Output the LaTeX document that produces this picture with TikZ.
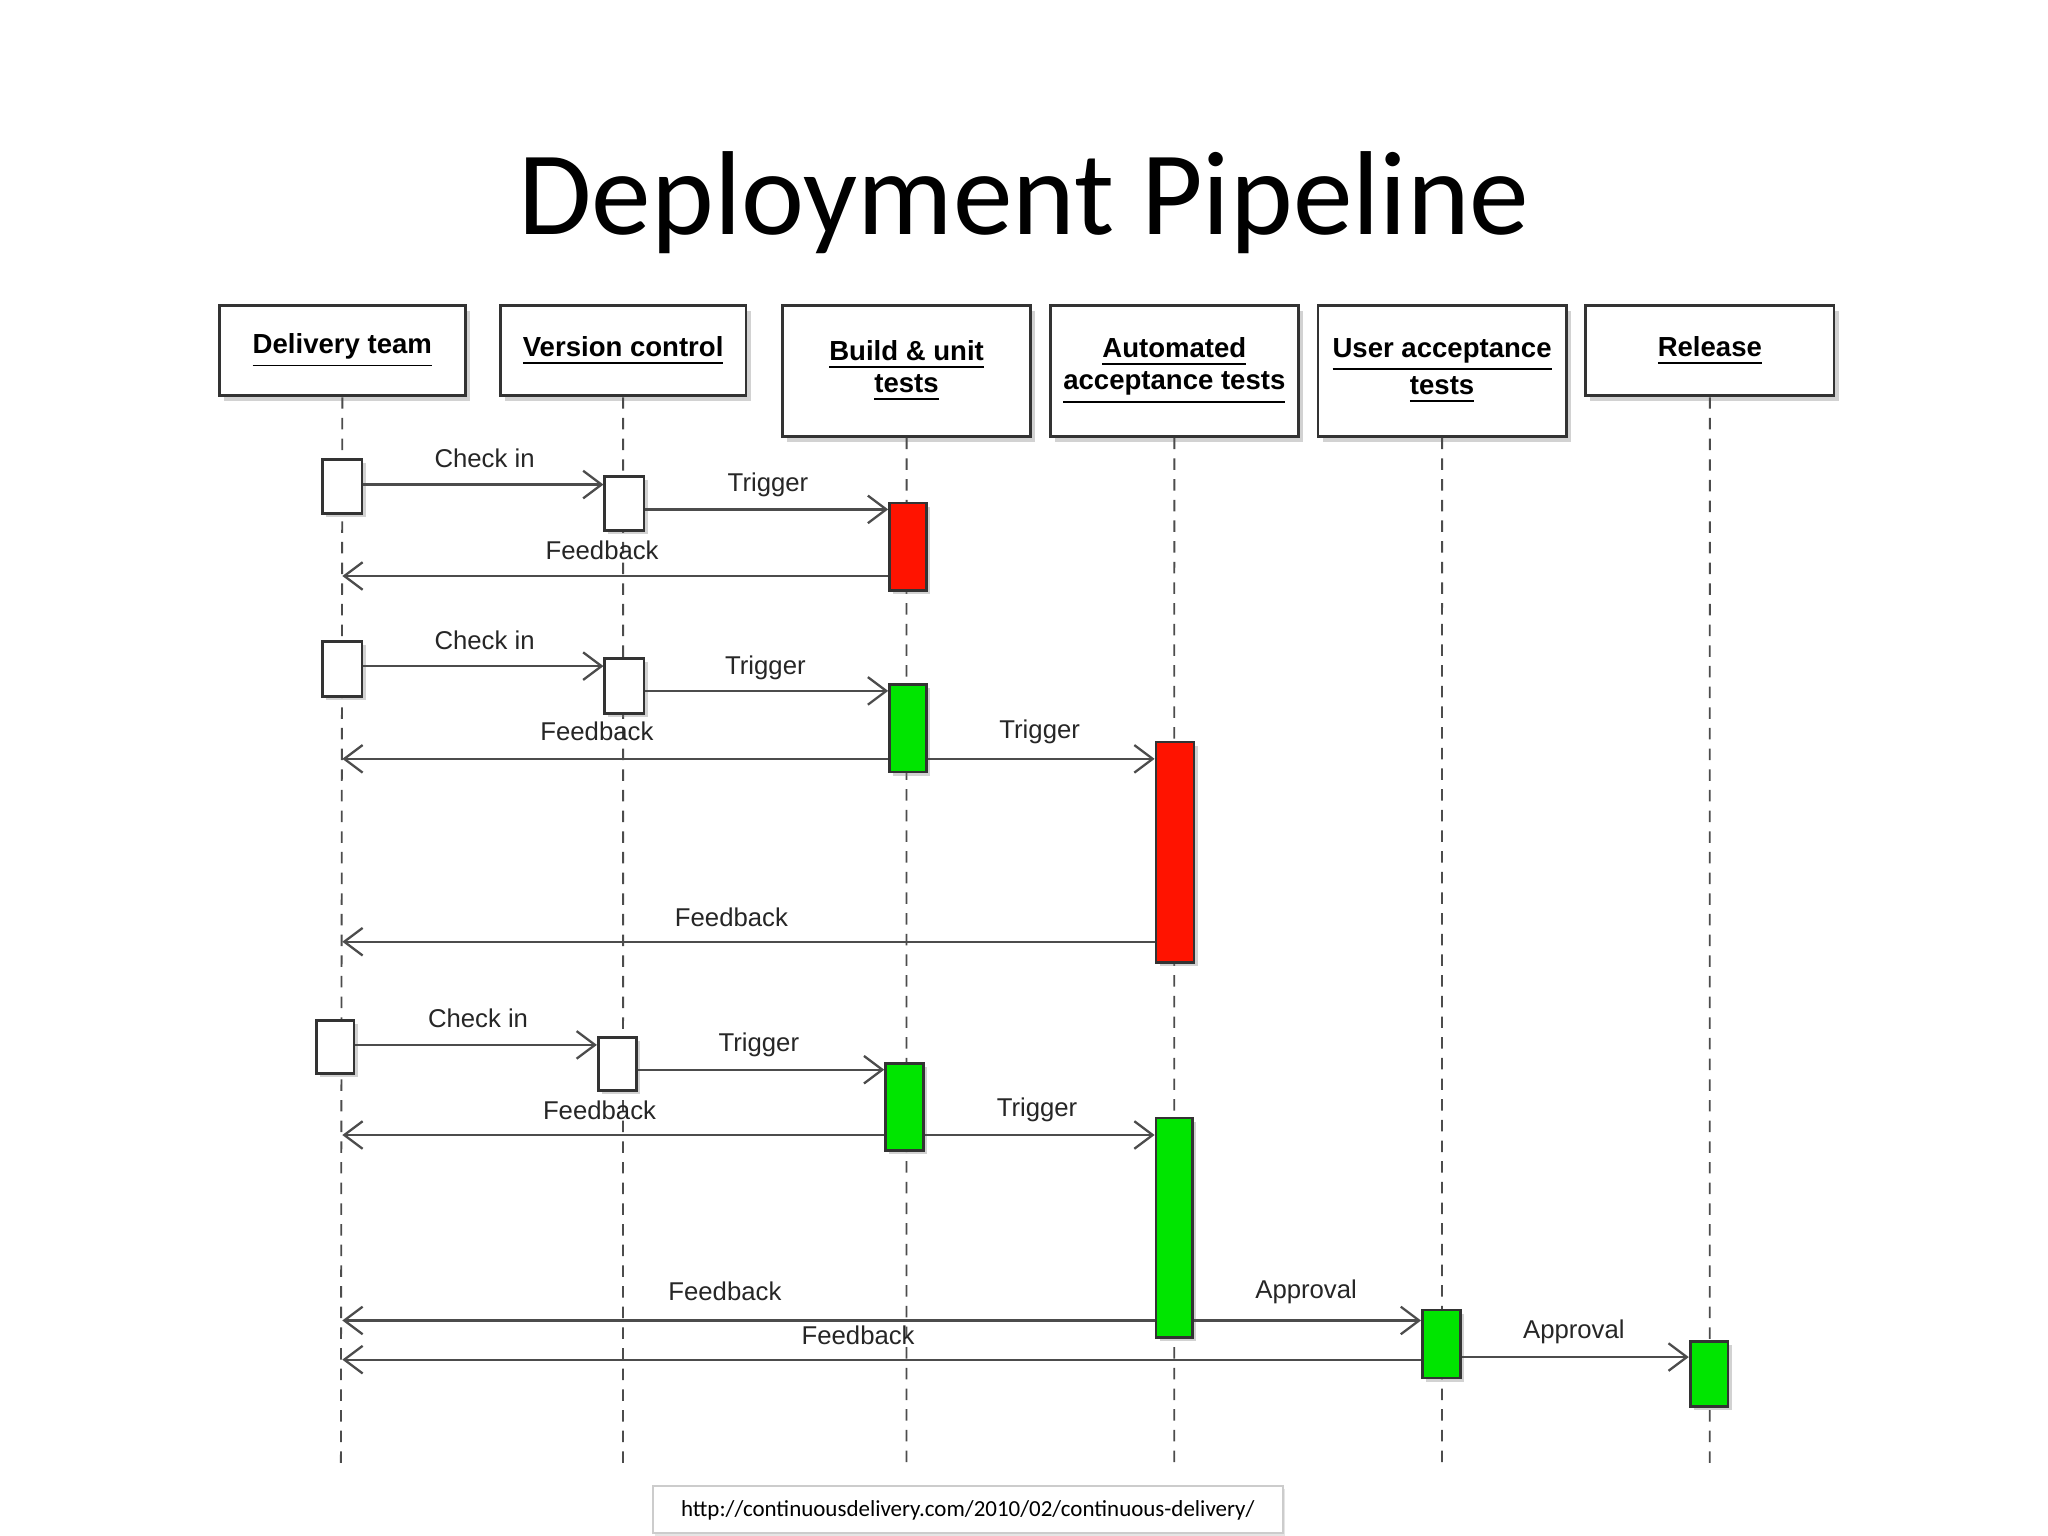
\documentclass[tikz,border=0pt]{standalone}
\usepackage{fontspec}
\setmainfont{Liberation Sans}
\newfontfamily\calfont{Carlito}
\usetikzlibrary{shadows,arrows.meta}
\begin{document}
\begin{tikzpicture}[x=0.01cm,y=-0.01cm,
 hdr/.style={draw=black!80,line width=0.6pt,fill=white,drop shadow={shadow xshift=1pt,shadow yshift=-1.2pt,opacity=0.35},anchor=north west,inner sep=0,font=\fontsize{6}{7}\selectfont\bfseries,align=center},
 act/.style={draw=black!80,line width=0.6pt,drop shadow={shadow xshift=0.8pt,shadow yshift=-0.8pt,opacity=0.35},anchor=north west,inner sep=0},
 life/.style={black!70,line width=0.4pt,dash pattern=on 2.5pt off 2pt},
 msg/.style={black!70,line width=0.5pt,-{Straight Barb[length=4pt,width=6pt]}},
 lbl/.style={font=\fontsize{5.6}{6.5}\selectfont,text=black!85}]
\useasboundingbox (0,0) rectangle (1568,1176);
\fill[white] (0,0) rectangle (1568,1176);
\node[font=\calfont\fontsize{26}{30}\selectfont] (title) at (784,155) {Deployment Pipeline};
% headers
\node[hdr,minimum width=1.88cm,minimum height=0.69cm] (dt) at (167,233) {\underline{Delivery team}};
\node[hdr,minimum width=1.88cm,minimum height=0.69cm] (vc) at (382,233) {\underline{Version control}};
\node[hdr,minimum width=1.90cm,minimum height=1.00cm] (bu) at (598,233) {\underline{Build \& unit}\\\underline{tests}};
\node[hdr,minimum width=1.90cm,minimum height=1.00cm] (at) at (803,233) {\underline{Automated}\\\underline{acceptance tests}};
\node[hdr,minimum width=1.90cm,minimum height=1.00cm] (ua) at (1008,233) {\underline{User acceptance}\\\underline{tests}};
\node[hdr,minimum width=1.90cm,minimum height=0.69cm] (re) at (1213,233) {\underline{Release}};
% lifelines
\coordinate (dte) at (261,1125); \coordinate (vce) at (477,1125); \coordinate (bue) at (694,1125);
\coordinate (ate) at (899,1125); \coordinate (uae) at (1104,1125); \coordinate (ree) at (1309,1125);
\draw[life] (dt.south) -- (dte); \draw[life] (vc.south) -- (vce); \draw[life] (bu.south) -- (bue);
\draw[life] (at.south) -- (ate); \draw[life] (ua.south) -- (uae); \draw[life] (re.south) -- (ree);
% activations
\node[act,fill=white,minimum width=0.30cm,minimum height=0.41cm] (d1) at (246,351) {};
\node[act,fill=white,minimum width=0.30cm,minimum height=0.41cm] (v1) at (462,364) {};
\node[act,fill=red!85!orange,minimum width=0.28cm,minimum height=0.67cm] (b1) at (680,384) {};
\node[act,fill=white,minimum width=0.30cm,minimum height=0.42cm] (d2) at (246,490) {};
\node[act,fill=white,minimum width=0.30cm,minimum height=0.42cm] (v2) at (462,503) {};
\node[act,fill=green!90!black,minimum width=0.28cm,minimum height=0.67cm] (b2) at (680,523) {};
\node[act,fill=red!85!orange,minimum width=0.29cm,minimum height=1.69cm] (a2) at (884,567) {};
\node[act,fill=white,minimum width=0.29cm,minimum height=0.41cm] (d3) at (241,780) {};
\node[act,fill=white,minimum width=0.29cm,minimum height=0.41cm] (v3) at (457,793) {};
\node[act,fill=green!90!black,minimum width=0.29cm,minimum height=0.67cm] (b3) at (677,813) {};
\node[act,fill=green!90!black,minimum width=0.28cm,minimum height=1.68cm] (a3) at (884,855) {};
\node[act,fill=green!90!black,minimum width=0.29cm,minimum height=0.52cm] (u3) at (1088,1002) {};
\node[act,fill=green!90!black,minimum width=0.29cm,minimum height=0.50cm] (r3) at (1293,1026) {};
% row 1
\draw[msg] (d1.east|-0,371) -- (v1.west|-0,371); \node[lbl] (l1) at (371,351) {Check in};
\draw[msg] (v1.east|-0,390) -- (b1.west|-0,390); \node[lbl] (l2) at (588,371) {Trigger};
\draw[msg] (b1.west|-0,441) -- (dt.south|-0,441); \node[lbl] (l3) at (461,421) {Feedback};
% row 2
\draw[msg] (d2.east|-0,510) -- (v2.west|-0,510); \node[lbl] (l4) at (371,490) {Check in};
\draw[msg] (v2.east|-0,529) -- (b2.west|-0,529); \node[lbl] (l5) at (586,511) {Trigger};
\draw[msg] (b2.west|-0,581) -- (dt.south|-0,581); \node[lbl] (l6) at (457,560) {Feedback};
\draw[msg] (b2.east|-0,581) -- (a2.west|-0,581); \node[lbl] (l7) at (796,560) {Trigger};
\draw[msg] (a2.west|-0,721) -- (dt.south|-0,721); \node[lbl] (l8) at (560,702) {Feedback};
% row 3
\draw[msg] (d3.east|-0,800) -- (v3.west|-0,800); \node[lbl] (l9) at (366,780) {Check in};
\draw[msg] (v3.east|-0,819) -- (b3.west|-0,819); \node[lbl] (l10) at (581,800) {Trigger};
\draw[msg] (b3.west|-0,869) -- (dt.south|-0,869); \node[lbl] (l11) at (459,850) {Feedback};
\draw[msg] (b3.east|-0,869) -- (a3.west|-0,869); \node[lbl] (l12) at (794,850) {Trigger};
\draw[msg] (a3.west|-0,1011) -- (dt.south|-0,1011); \node[lbl] (l13) at (555,989) {Feedback};
\draw[msg] (a3.east|-0,1011) -- (u3.west|-0,1011); \node[lbl] (l14) at (1000,989) {Approval};
\draw[msg] (u3.west|-0,1041) -- (dt.south|-0,1041); \node[lbl] (l15) at (657,1022) {Feedback};
\draw[msg] (u3.east|-0,1039) -- (r3.west|-0,1039); \node[lbl] (l16) at (1205,1020) {Approval};
% url
\node[draw=black!20,fill=white,drop shadow={opacity=0.2,shadow xshift=0.5pt,shadow yshift=-0.5pt},minimum width=4.82cm,minimum height=0.36cm,inner sep=0,font=\calfont\fontsize{5}{6}\selectfont] (url) at (741,1156) {http://continuousdelivery.com/2010/02/continuous-delivery/};
\end{tikzpicture}
\end{document}
